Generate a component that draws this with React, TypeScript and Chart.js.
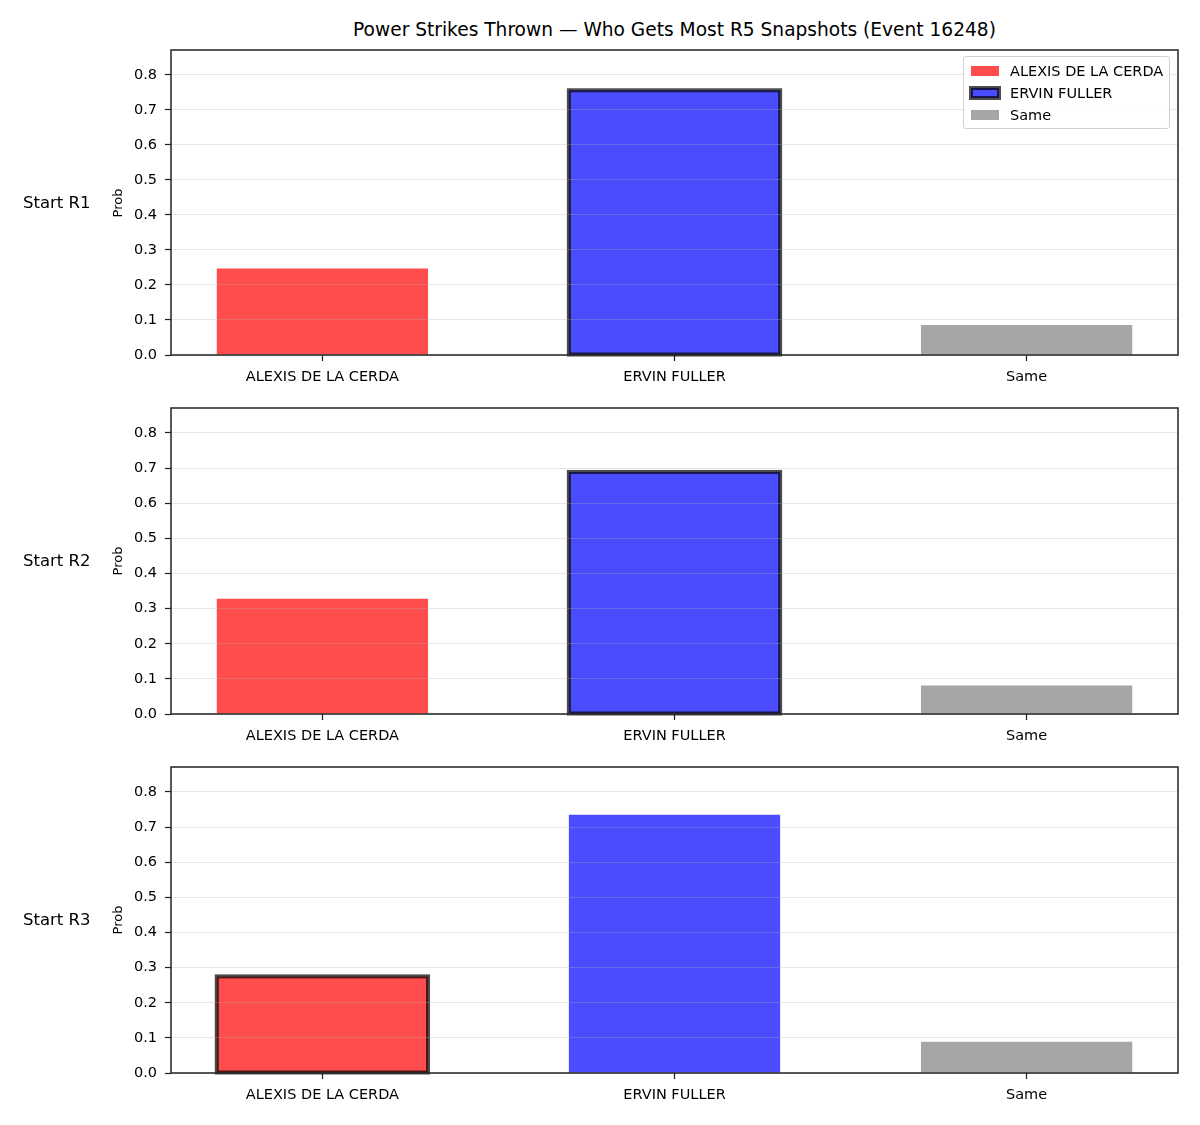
import { useEffect, useRef } from 'react';
import { Chart, registerables } from 'chart.js';

Chart.register(...registerables);

// ---- data ----
const players = ['ALEXIS DE LA CERDA', 'ERVIN FULLER', 'Same'];
const startRounds = ['Start R1', 'Start R2', 'Start R3'];
const probR1 = [0.247, 0.756, 0.086];
const probR2 = [0.328, 0.689, 0.081];
const probR3 = [0.275, 0.735, 0.089];
const highlightIndex = [1, 1, 0];
const yTicks = [0, 0.1, 0.2, 0.3, 0.4, 0.5, 0.6, 0.7, 0.8];
const yMax = 0.871;
const chartTitle = 'Power Strikes Thrown — Who Gets Most R5 Snapshots (Event 16248)';

const panelValues = [probR1, probR2, probR3];

// ---- styling ----
const FONT = '"DejaVu Sans", "Liberation Sans", sans-serif';
const barColors = ['rgba(255,0,0,0.7)', 'rgba(0,0,255,0.7)', 'rgba(128,128,128,0.7)'];
const EDGE = 'rgba(0,0,0,0.7)';
const SPINE = '#222222';
const GRID = 'rgba(176,176,176,0.3)';
const TICK_SIZE = 14.5;

// axes boxes (top, bottom) in figure pixels
const panelBoxes = [
  [50, 355],
  [408, 714],
  [767, 1073],
];
const AX_LEFT = 171;
const AX_RIGHT = 1178;
const FIG_W = 1200;
const FIG_H = 1125;
const PAD_TOP = 24;
const XAXIS_H = 45;

const framePlugin = {
  id: 'axesFrame',
  afterDraw(chart: any) {
    const { ctx, chartArea } = chart;
    ctx.save();
    ctx.strokeStyle = SPINE;
    ctx.lineWidth = 1.5;
    ctx.strokeRect(chartArea.left, chartArea.top, chartArea.right - chartArea.left, chartArea.bottom - chartArea.top);
    ctx.restore();
  },
};

const highlightPlugin = {
  id: 'highlightBar',
  afterDatasetsDraw(chart: any, _args: any, opts: any) {
    const meta = chart.getDatasetMeta(0);
    const el = meta.data[opts.index];
    if (!el) return;
    const { x, y, base, width } = el.getProps(['x', 'y', 'base', 'width'], true);
    const { ctx } = chart;
    ctx.save();
    ctx.strokeStyle = EDGE;
    ctx.lineWidth = 4;
    ctx.strokeRect(x - width / 2, y, width, base - y);
    ctx.restore();
  },
};

function Panel({ idx }: { idx: number }) {
  const ref = useRef<HTMLCanvasElement | null>(null);
  const [axTop, axBottom] = panelBoxes[idx];
  const canvasTop = axTop - PAD_TOP;
  const canvasH = axBottom - axTop + PAD_TOP + XAXIS_H;

  useEffect(() => {
    if (!ref.current) return;
    const values = panelValues[idx];
    const tickFont = { family: FONT, size: TICK_SIZE };
    const chart = new Chart(ref.current, {
      type: 'bar',
      data: {
        datasets: [
          {
            data: values.map((v, i) => ({ x: i, y: v })),
            backgroundColor: barColors,
            borderWidth: 0,
            barPercentage: 0.6,
            categoryPercentage: 1,
            inflateAmount: 0,
          } as any,
        ],
      },
      options: {
        animation: false,
        responsive: false,
        devicePixelRatio: 1,
        layout: { padding: { top: PAD_TOP, right: FIG_W - AX_RIGHT, left: 0, bottom: 0 } },
        plugins: {
          legend: { display: false },
          tooltip: { enabled: false },
          highlightBar: { index: highlightIndex[idx] },
        } as any,
        scales: {
          x: {
            type: 'linear',
            min: -0.43,
            max: 2.43,
            offset: false,
            afterFit: (s: any) => {
              s.height = XAXIS_H;
            },
            afterBuildTicks: (s: any) => {
              s.ticks = players.map((_, i) => ({ value: i }));
            },
            ticks: {
              callback: (v: any) => players[v] ?? '',
              font: tickFont,
              color: '#000',
              padding: 8,
              maxRotation: 0,
              autoSkip: false,
            },
            grid: {
              offset: false,
              drawOnChartArea: false,
              drawTicks: true,
              tickLength: 6,
              tickColor: SPINE,
              tickWidth: 1.25,
            },
            border: { display: false },
          },
          y: {
            min: 0,
            max: yMax,
            afterFit: (s: any) => {
              s.width = AX_LEFT;
            },
            afterBuildTicks: (s: any) => {
              s.ticks = yTicks.map((v) => ({ value: v }));
            },
            ticks: {
              callback: (v: any) => Number(v).toFixed(1),
              font: tickFont,
              color: '#000',
              padding: 8,
            },
            grid: {
              color: GRID,
              lineWidth: 1,
              z: 1,
              tickLength: 6,
              tickColor: SPINE,
              tickWidth: 1.25,
            } as any,
            border: { display: false },
          },
        },
      },
      plugins: [highlightPlugin, framePlugin],
    });
    return () => chart.destroy();
  }, [idx]);

  const midY = (axTop + axBottom) / 2;
  return (
    <>
      <canvas
        ref={ref}
        width={FIG_W}
        height={canvasH}
        style={{ position: 'absolute', left: 0, top: canvasTop, width: FIG_W, height: canvasH }}
      />
      <div
        style={{
          position: 'absolute',
          left: 23,
          top: midY,
          transform: 'translateY(-50%)',
          fontFamily: FONT,
          fontSize: 16.5,
          color: '#000',
          whiteSpace: 'nowrap',
          lineHeight: 1,
        }}
      >
        {startRounds[idx]}
      </div>
      <div
        style={{
          position: 'absolute',
          left: 117,
          top: midY,
          transform: 'translate(-50%, -50%) rotate(-90deg)',
          fontFamily: FONT,
          fontSize: 13,
          color: '#000',
          whiteSpace: 'nowrap',
          lineHeight: 1,
        }}
      >
        Prob
      </div>
    </>
  );
}

function LegendBox() {
  const rowCenters = [70.5, 92.5, 114.5];
  return (
    <div
      style={{
        position: 'absolute',
        left: 963,
        top: 56,
        width: 205,
        height: 71,
        border: '1px solid #d0d0d0',
        borderRadius: 3,
        background: 'rgba(255,255,255,0.8)',
      }}
    >
      {players.map((name, i) => {
        const cy = rowCenters[i] - 57;
        const isEdge = i === highlightIndex[0];
        return (
          <div key={name}>
            <div
              style={{
                position: 'absolute',
                left: 7,
                top: cy - 5,
                width: 28,
                height: 10,
                background: barColors[i],
                boxShadow: isEdge ? `0 0 0 2px ${EDGE}, inset 0 0 0 2px ${EDGE}` : undefined,
              }}
            />
            <div
              style={{
                position: 'absolute',
                left: 46,
                top: cy,
                transform: 'translateY(-50%)',
                fontFamily: FONT,
                fontSize: TICK_SIZE,
                lineHeight: 1,
                color: '#000',
                whiteSpace: 'nowrap',
              }}
            >
              {name}
            </div>
          </div>
        );
      })}
    </div>
  );
}

export default function App() {
  return (
    <div
      style={{
        position: 'absolute',
        left: 0,
        top: 0,
        width: FIG_W,
        height: FIG_H,
        background: '#fff',
        overflow: 'hidden',
      }}
    >
      <div
        style={{
          position: 'absolute',
          left: (AX_LEFT + AX_RIGHT) / 2,
          top: 30,
          transform: 'translate(-50%, -50%)',
          fontFamily: FONT,
          fontSize: 18.6,
          lineHeight: 1,
          color: '#000',
          whiteSpace: 'nowrap',
        }}
      >
        {chartTitle}
      </div>
      {[0, 1, 2].map((i) => (
        <Panel key={i} idx={i} />
      ))}
      <LegendBox />
    </div>
  );
}
